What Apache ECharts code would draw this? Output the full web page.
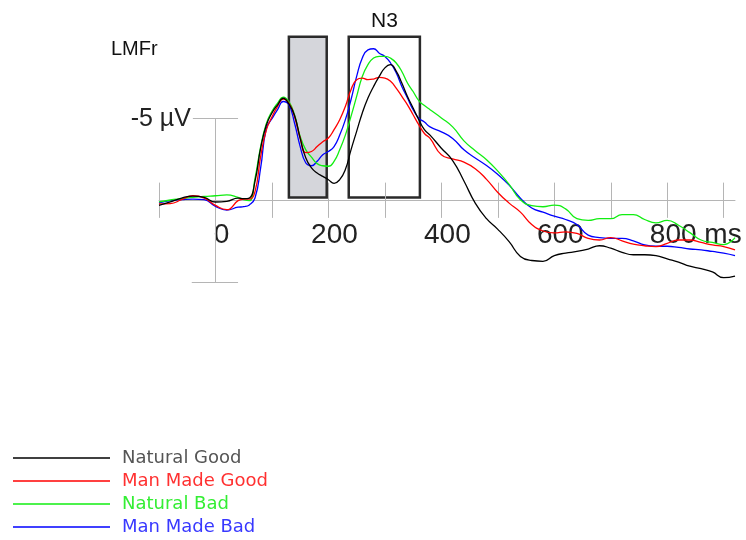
<!DOCTYPE html>
<html>
<head>
<meta charset="utf-8">
<script src="https://cdn.jsdelivr.net/npm/echarts@6/dist/echarts.min.js"></script>
<style>
html, body { margin: 0; padding: 0; background: #fff; }
#chart { width: 746px; height: 540px; }
</style>
</head>
<body>
<div id="chart"></div>
<script>
// time points (ms)
var times = [-100, -80, -60, -40, -20, 0, 20, 40,
    50, 60, 70, 80, 90, 100, 110, 120, 130, 140, 150, 160, 170, 180, 190, 200, 210, 220, 230, 240,
    250, 260, 270, 280, 290, 300, 310, 320, 330, 340, 350, 360, 370, 380,
    400, 420, 440, 460, 480, 500, 520, 540, 560, 580, 600, 620, 640, 660, 680, 700, 720, 740,
    760, 780, 800, 820, 840, 860, 880, 900, 920];

// amplitudes (µV), negative plotted up
var naturalGood = [0.29, 0.08, -0.16, -0.28, -0.2, 0.08, 0.04, -0.16,
    -0.12, -0.16, -1.18, -3.2, -4.6, -5.35, -5.85, -6.25, -5.9, -5.2, -3.8, -2.6, -2.0, -1.69, -1.48, -1.28, -1.06, -1.28, -1.9, -3.1,
    -4.23, -5.35, -6.26, -6.97, -7.58, -8.1, -8.3, -7.9, -7.18, -6.36, -5.65, -4.94, -4.33, -4.0,
    -3.2, -2.45, -1.2, 0.15, 1.1, 1.75, 2.5, 3.4, 3.65, 3.7, 3.35, 3.2, 3.1, 2.95, 2.75, 2.9, 3.15, 3.3,
    3.3, 3.35, 3.55, 3.75, 4.0, 4.15, 4.35, 4.7, 4.6];
var manMadeGood = [0.2, 0.18, -0.06, -0.3, -0.16, 0.29, 0.55, 0.0,
    -0.1, -0.1, -0.55, -2.7, -4.3, -5.1, -5.75, -6.2, -5.96, -5.14, -3.82, -2.93, -3.0, -3.3, -3.6, -3.82, -4.33, -4.94, -5.75, -6.77,
    -7.38, -7.48, -7.38, -7.42, -7.52, -7.48, -7.28, -6.87, -6.36, -5.85, -5.24, -4.63, -4.1, -3.8,
    -2.8, -2.55, -2.35, -1.95, -1.3, -0.5, 0.15, 0.7, 1.45, 1.85, 1.97, 1.9, 2.0, 2.3, 2.4, 2.25, 2.45, 2.65,
    2.75, 2.8, 2.6, 2.4, 2.4, 2.55, 2.7, 2.8, 3.0];
var naturalBad = [0.08, -0.04, -0.12, -0.2, -0.26, -0.3, -0.35, -0.2,
    -0.06, 0.0, -1.36, -3.3, -4.7, -5.45, -5.95, -6.32, -6.05, -5.24, -3.92, -3.1, -2.66, -2.26, -2.13, -2.1, -2.4, -3.1, -4.0, -5.14,
    -6.36, -7.58, -8.3, -8.7, -8.8, -8.8, -8.7, -8.4, -7.88, -7.18, -6.66, -6.1, -5.8, -5.55,
    -5.05, -4.5, -3.65, -3.05, -2.5, -1.8, -1.0, -0.05, 0.3, 0.37, 0.27, 0.5, 1.1, 1.2, 1.1, 1.1, 0.85, 0.85,
    1.15, 1.35, 1.2, 1.5, 1.95, 2.4, 2.55, 2.68, 2.25];
var manMadeBad = [0.14, 0.0, -0.06, -0.1, -0.06, 0.35, 0.57, 0.4,
    0.37, 0.26, -0.16, -2.0, -4.4, -5.0, -5.55, -6.05, -5.85, -4.74, -3.3, -2.3, -2.13, -2.4, -2.8, -3.0, -3.3, -4.0, -4.94, -6.16,
    -7.58, -8.7, -9.2, -9.27, -9.0, -8.8, -8.4, -7.8, -6.97, -6.26, -5.55, -5.04, -4.8, -4.5,
    -4.2, -3.8, -3.1, -2.6, -2.15, -1.6, -0.95, -0.15, 0.45, 0.7, 0.95, 1.15, 1.45, 2.1, 2.25, 2.3, 2.3, 2.45,
    2.7, 2.78, 2.78, 2.85, 2.95, 3.0, 3.1, 3.2, 3.35];

var seriesNames = ['Natural Good', 'Man Made Good', 'Natural Bad', 'Man Made Bad'];
var seriesData = [naturalGood, manMadeGood, naturalBad, manMadeBad];
var lineColors = ['#000000', '#ff0000', '#11ee11', '#0000ff'];
var legendColors = ['#555555', '#ff3030', '#33ee33', '#3838ff'];

var tickTimes = [-100, 0, 100, 200, 300, 400, 500, 600, 700, 800, 900];
var labelTimes = [0, 200, 400, 600, 800];
var shadedWindow = [130, 197];   // grey box (ms)
var n3Window = [236, 362];       // N3 box (ms)
var boxRange = [-10, -0.2];      // µV

var axisGrey = '#b5b5b5';

function pair(a, b) { return [a, b]; }

var markLines = [];
tickTimes.forEach(function (t) {
    markLines.push(pair({ coord: [t, -1.1] }, { coord: [t, 1.05] }));
});
markLines.push(pair({ coord: [0, -5] }, { coord: [0, 5] }));
markLines.push(pair({
    coord: [-40, -5],
    label: { show: true, position: 'start', distance: 2, formatter: '-5 µV', fontSize: 25, color: '#222', fontFamily: 'Liberation Sans' }
}, { coord: [40, -5] }));
markLines.push(pair({ coord: [-42, 5] }, { coord: [40, 5] }));

var series = seriesNames.map(function (name, i) {
    return {
        name: name,
        type: 'line',
        data: times.map(function (t, j) { return [t, seriesData[i][j]]; }),
        showSymbol: false,
        symbol: 'none',
        smooth: true,
        z: 10 - i,
        lineStyle: { color: lineColors[i], width: 1.3 },
        itemStyle: { color: lineColors[i] }
    };
});

series.push({
    name: 'frame',
    type: 'line',
    data: [],
    silent: true,
    z: 1,
    markArea: {
        silent: true,
        data: [
            [{ coord: [shadedWindow[0], boxRange[0]], itemStyle: { color: '#d5d6db', borderColor: '#2a2a2a', borderWidth: 2.5 } },
             { coord: [shadedWindow[1], boxRange[1]] }],
            [{ coord: [n3Window[0], boxRange[0]], itemStyle: { color: 'rgba(255,255,255,0)', borderColor: '#2a2a2a', borderWidth: 2.5 } },
             { coord: [n3Window[1], boxRange[1]] }]
        ]
    },
    markLine: {
        silent: true,
        symbol: ['none', 'none'],
        label: { show: false },
        lineStyle: { color: axisGrey, width: 1, type: 'solid' },
        data: markLines
    }
});

var chart = echarts.init(document.getElementById('chart'));
chart.setOption({
    animation: false,
    backgroundColor: '#fff',
    title: [
        { text: 'LMFr', left: 106, top: 34, textStyle: { fontSize: 20, fontWeight: 'normal', color: '#111', fontFamily: 'Liberation Sans' } },
        { text: 'N3', left: 366, top: 6, textStyle: { fontSize: 21, fontWeight: 'normal', color: '#111', fontFamily: 'Liberation Sans' } }
    ],
    grid: { left: 159, width: 576, top: 4, height: 295 },
    legend: {
        orient: 'vertical',
        left: 13,
        top: 449,
        padding: 0,
        icon: 'rect',
        itemWidth: 97,
        itemHeight: 1.4,
        itemGap: 5,
        data: seriesNames.map(function (n, i) {
            return { name: n, textStyle: { color: legendColors[i] } };
        }),
        textStyle: { fontSize: 18, fontFamily: 'DejaVu Sans', padding: [0, 0, 0, 7] }
    },
    xAxis: {
        type: 'value',
        min: -100,
        max: 920,
        interval: 100,
        axisLine: { onZero: true, lineStyle: { color: axisGrey, width: 1 } },
        axisTick: { show: false },
        splitLine: { show: false },
        axisLabel: {
            fontSize: 28,
            color: '#222',
            fontFamily: 'Liberation Sans',
            margin: -78,
            padding: [0, 0, 0, 12],
            formatter: function (v) {
                if (v === 800) return '{p| }800 ms';
                return labelTimes.indexOf(v) >= 0 ? String(v) : '';
            },
            rich: { p: { width: 45 } }
        }
    },
    yAxis: {
        type: 'value',
        inverse: true,
        min: -12,
        max: 6,
        axisLine: { show: false },
        axisTick: { show: false },
        axisLabel: { show: false },
        splitLine: { show: false }
    },
    series: series
});
</script>
</body>
</html>
